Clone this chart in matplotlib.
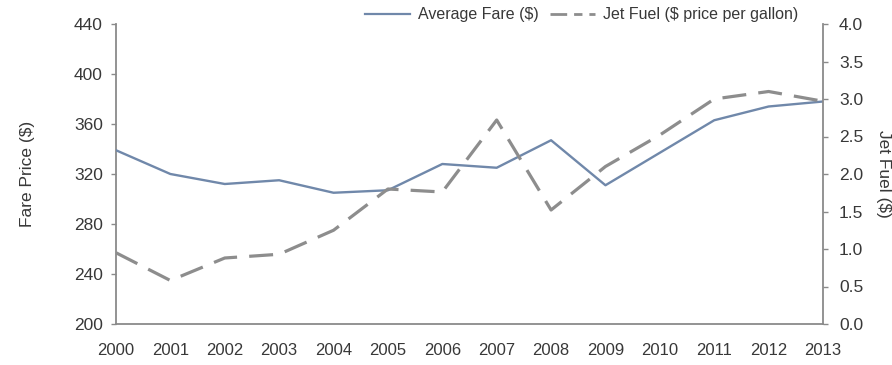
import matplotlib
matplotlib.use("Agg")
import matplotlib.pyplot as plt
from matplotlib.lines import Line2D

plt.rcParams['font.family'] = ['Liberation Sans', 'DejaVu Sans']

years = [2000, 2001, 2002, 2003, 2004, 2005, 2006,
         2007, 2008, 2009, 2010, 2011, 2012, 2013]
fare = [339, 320, 312, 315, 305, 307, 328,
        325, 347, 311, 337, 363, 374, 378]
jet_fuel = [0.95, 0.58, 0.88, 0.93, 1.25, 1.80, 1.76,
            2.72, 1.52, 2.10, 2.52, 3.00, 3.10, 2.97]

fare_color = "#7088aa"
fuel_color = "#8d8d8d"
axis_color = "#8a8a8a"
text_color = "#383838"

fig = plt.figure(figsize=(8.92, 3.65), dpi=100)
ax1 = fig.add_axes([116 / 892, 1 - 324 / 365, 707 / 892, 300 / 365])
ax2 = ax1.twinx()

ax1.plot(years, fare, color=fare_color, lw=1.7, zorder=3)
ax2.plot(years, jet_fuel, color=fuel_color, lw=2.3, dashes=(7.5, 3.8))

ax1.set_xlim(2000, 2013)
ax1.set_ylim(200, 440)
ax1.set_yticks(range(200, 441, 40))
ax2.set_ylim(0, 4.0)
ax2.set_yticks([0, 0.5, 1.0, 1.5, 2.0, 2.5, 3.0, 3.5, 4.0])
ax2.set_yticklabels(["%.1f" % v for v in ax2.get_yticks()])
ax1.set_xticks(years)

for ax in (ax1, ax2):
    ax.spines['top'].set_visible(False)
    for s in ('left', 'right', 'bottom'):
        ax.spines[s].set_color(axis_color)
        ax.spines[s].set_linewidth(1.3)
    ax.tick_params(colors=axis_color, labelcolor=text_color, labelsize=12.5,
                   length=3.5, width=1, pad=6)
ax1.spines['right'].set_visible(False)
ax2.spines['left'].set_visible(False)
ax2.spines['bottom'].set_visible(False)
ax2.tick_params(axis='y', pad=8)
ax1.tick_params(axis='x', length=0, pad=14, labelsize=12)

ax1.text((28 - 116) / 707, 0.5, "Fare Price ($)", transform=ax1.transAxes,
         rotation=90, ha='center', va='center', fontsize=12.5, color=text_color)
ax1.text((883 - 116) / 707, 0.5, "Jet Fuel ($)", transform=ax1.transAxes,
         rotation=-90, ha='center', va='center', fontsize=12.5, color=text_color)

handles = [Line2D([], [], color=fare_color, lw=1.6),
           Line2D([], [], color=fuel_color, lw=2.0, dashes=(6, 2.5, 3, 2.5))]
fig.legend(handles, ["Average Fare ($)", "Jet Fuel ($ price per gallon)"],
           loc='center left', bbox_to_anchor=(365 / 892, 1 - 15 / 365),
           ncol=2, frameon=False, borderpad=0, borderaxespad=0,
           fontsize=11.5, handlelength=2.8, columnspacing=0.75,
           handletextpad=0.5, labelcolor=text_color)

fig.savefig("out.png", dpi=100, facecolor="white")
